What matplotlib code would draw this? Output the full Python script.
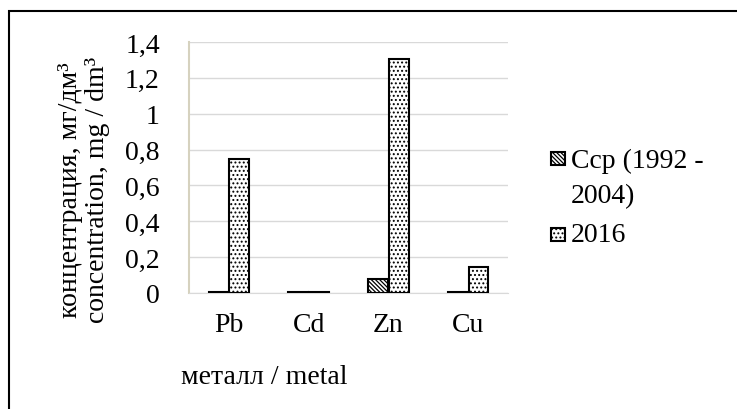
import numpy as np
import matplotlib
matplotlib.use('Agg')
import matplotlib.pyplot as plt
from matplotlib.patches import Rectangle

plt.rcParams['font.family'] = ['Liberation Serif', 'DejaVu Serif']
plt.rcParams['hatch.linewidth'] = 0.9

metals = ['Pb', 'Cd', 'Zn', 'Cu']
ccp = [0.003, 0.003, 0.078, 0.003]
y2016 = [0.745, 0.003, 1.305, 0.147]
series_names = ['Ccp (1992 -', '2004)', '2016']
yticks = [0, 0.2, 0.4, 0.6, 0.8, 1, 1.2, 1.4]
ytick_labels = ['0', '0,2', '0,4', '0,6', '0,8', '1', '1,2', '1,4']
hatches = ['\\' * 8, '....']
fs = 20

W, H = 737, 410
fig = plt.figure(figsize=(W/100, H/100), dpi=100)
ax = fig.add_axes([189/W, 1-294/H, (508-189)/W, (294-43)/H])

x = np.arange(len(metals))
w = 0.25
ax.bar(x - 0.13, ccp, w, facecolor='white', edgecolor='black', linewidth=1.5,
       hatch=hatches[0], zorder=3)
ax.bar(x + 0.13, y2016, w, facecolor='white', edgecolor='black', linewidth=1.5,
       hatch=hatches[1], zorder=3)

ax.set_xlim(-0.5, 3.5)
ax.set_ylim(0, 1.4)
ax.set_yticks(yticks)
ax.set_yticklabels(ytick_labels)
ax.set_xticks(x)
ax.set_xticklabels(metals)
ax.tick_params(axis='y', length=0, pad=21, labelsize=fs)
ax.tick_params(axis='x', length=0, pad=14, labelsize=fs)
ax.grid(axis='y', color='#d9d9d9', linewidth=1, zorder=0)
for s in ['top', 'right']:
    ax.spines[s].set_visible(False)
ax.spines['left'].set_color('#d6d2bf')
ax.spines['left'].set_linewidth(1.5)
ax.spines['bottom'].set_color('#d9d9d9')

fig.text(84/W, 1-190/H, 'концентрация, мг/дм³\nconcentration, mg / dm³',
         rotation=90, ha='center', va='center', fontsize=fs, linespacing=1.1)
fig.text(264/W, 1-378/H, 'металл / metal', ha='center', va='center', fontsize=fs)

# legend drawn by hand so the swatch sits on the first text line
for top, hatch in [(153, hatches[0]), (229, hatches[1])]:
    fig.add_artist(Rectangle((551/W, 1-(top+13)/H), 14/W, 13/H, transform=fig.transFigure,
                             facecolor='white', edgecolor='black', linewidth=1.5, hatch=hatch))
for base, label in zip([168, 203, 242], series_names):
    fig.text(571/W, 1-base/H, label, ha='left', va='baseline', fontsize=fs)

fig.add_artist(Rectangle((9/W, -0.1), 1.0, 1.1 - 12/H, transform=fig.transFigure,
                         fill=False, edgecolor='black', linewidth=1.5))

fig.savefig('out.png', dpi=100)
